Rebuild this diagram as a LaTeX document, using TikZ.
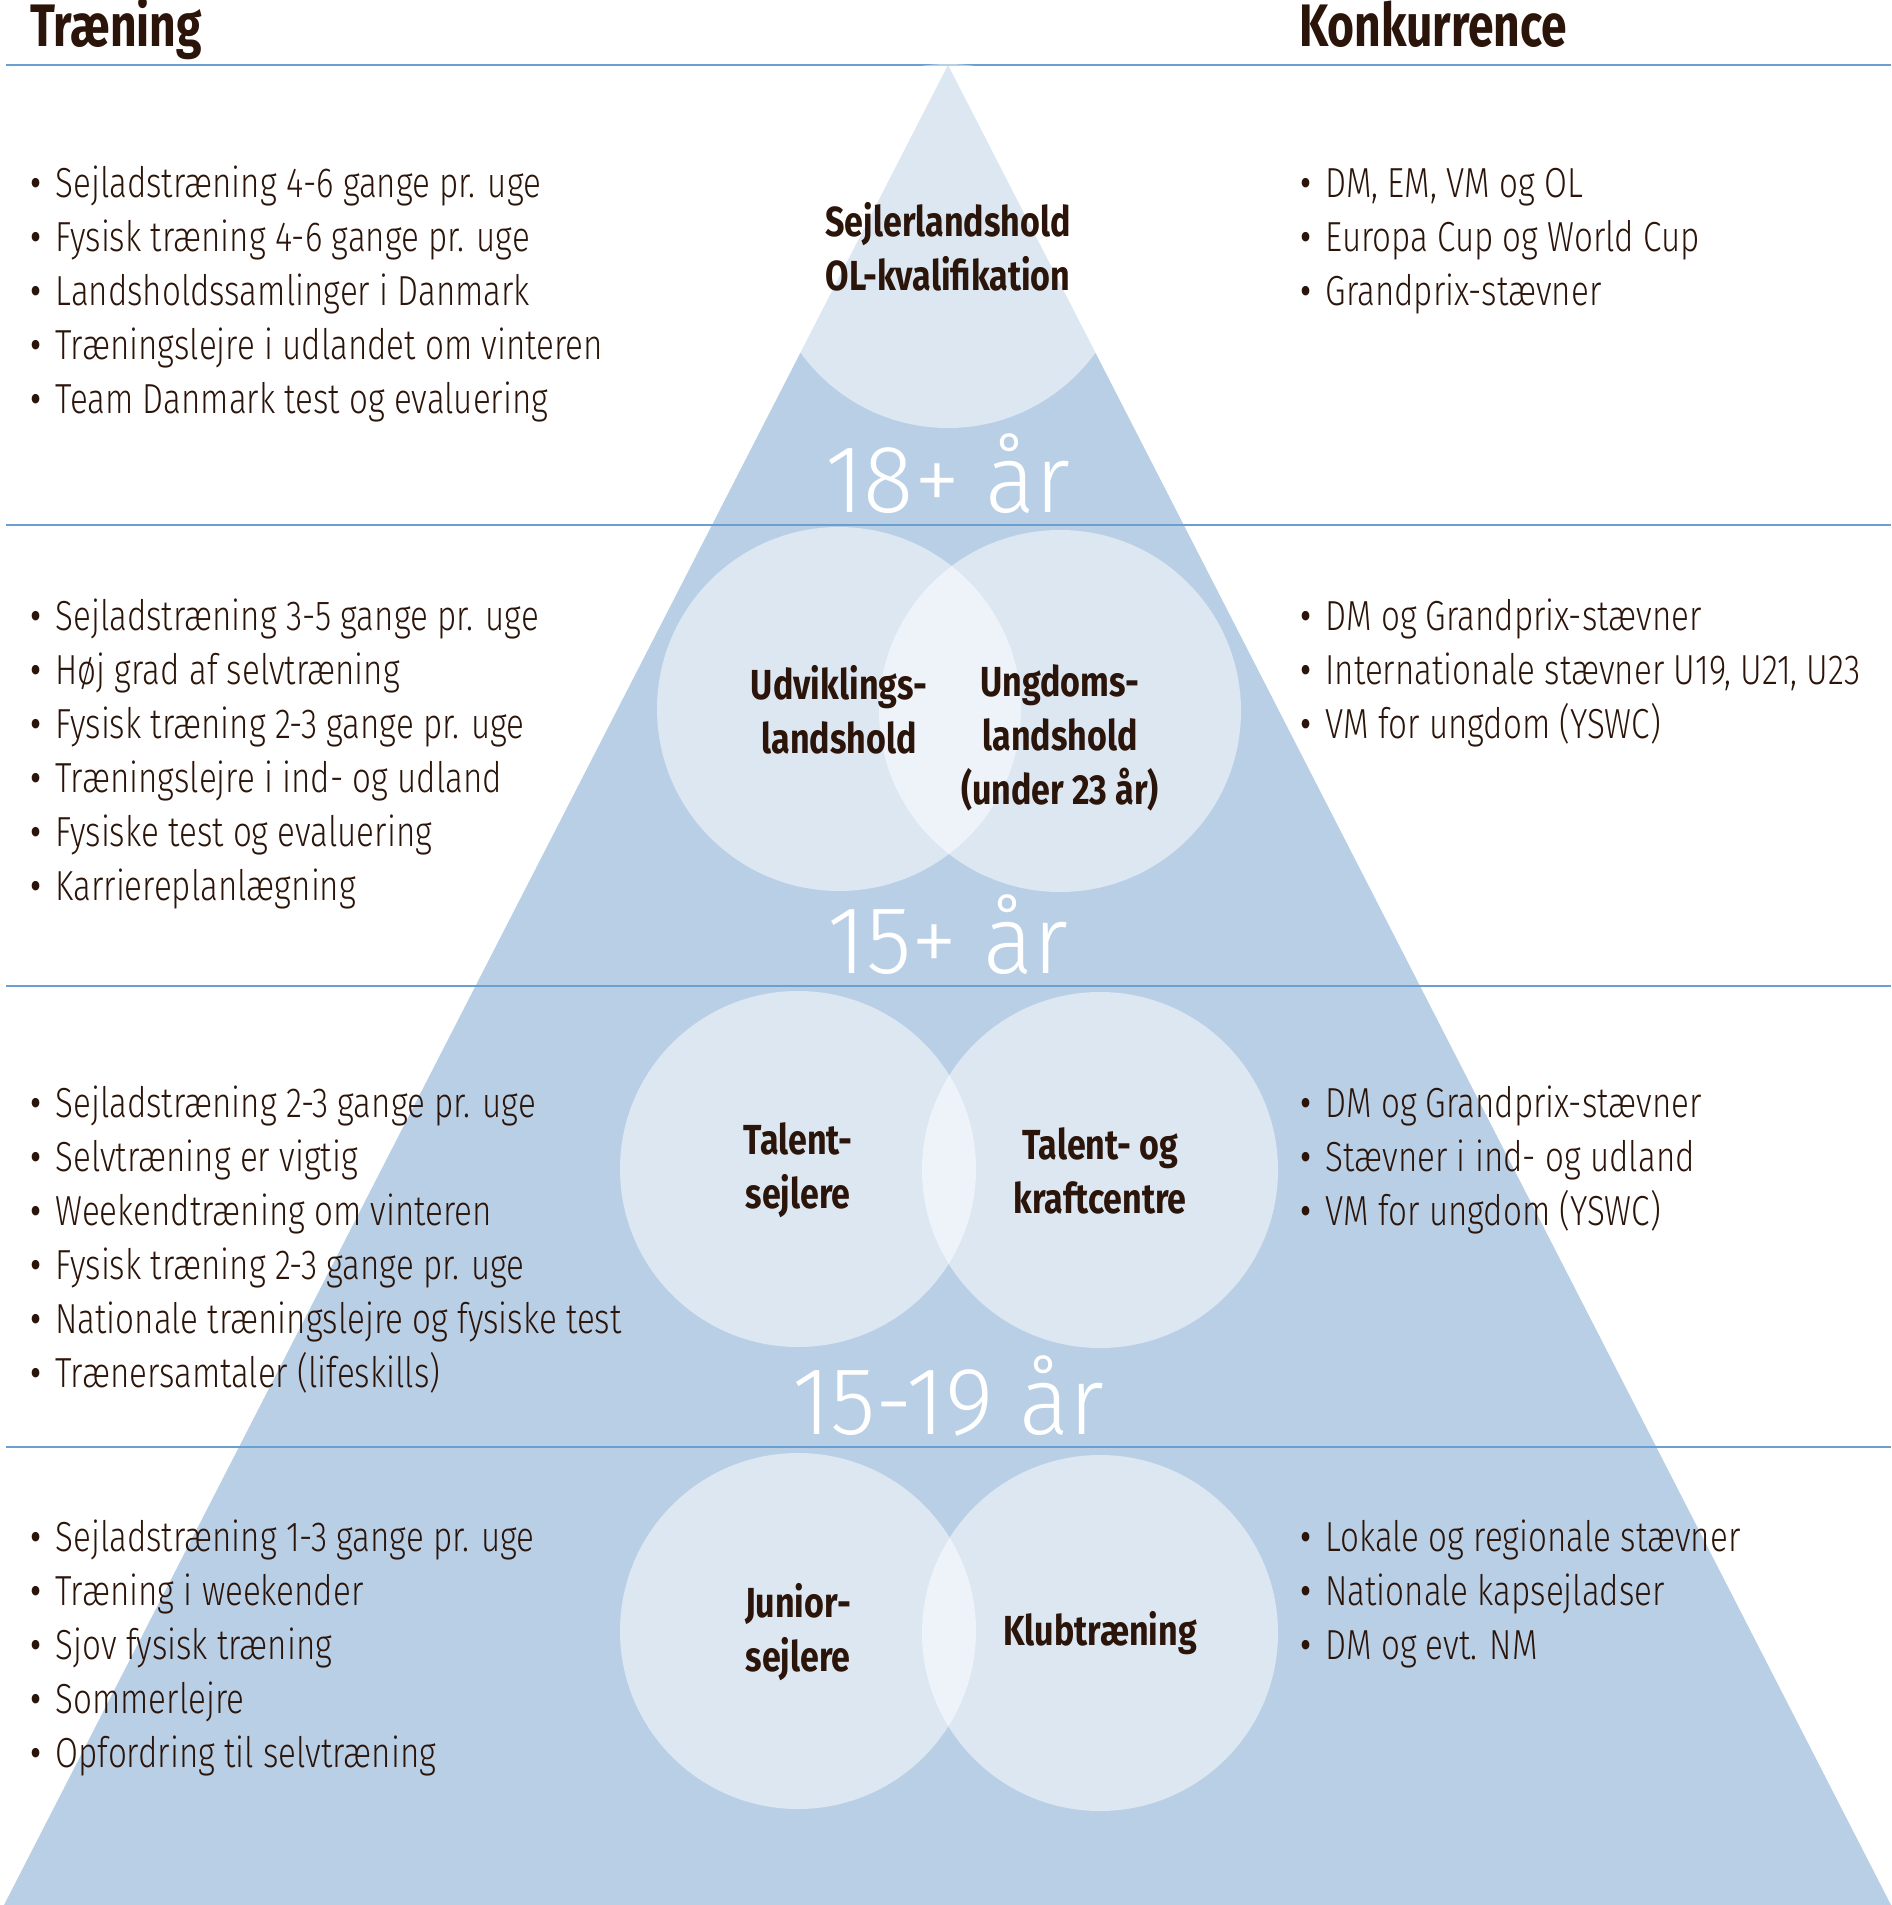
\documentclass[tikz,border=0pt]{standalone}
\usepackage{fontspec}
\setmainfont{Fira Sans}[FakeStretch=0.77]
\newfontfamily\itemfont{Fira Sans Light}[FakeStretch=0.79]
\newfontfamily\teamfont{Fira Sans}[FakeStretch=0.81]
\newfontfamily\agefont{Fira Sans Light}[FakeStretch=0.97]
\newcommand\dotmark{{\teamfont •}\hspace{5pt} }
\definecolor{pyramid}{HTML}{B9CFE6}
\definecolor{linecol}{HTML}{6B9FD0}
\definecolor{ink}{HTML}{2B1409}
\begin{document}
\begin{tikzpicture}[x=1pt,y=-1pt,
  item/.style={anchor=base west,text=ink,inner sep=0pt,font=\fontsize{42}{50}\itemfont},
  heading/.style={anchor=base west,text=ink,inner sep=0pt,font=\fontsize{60}{60}\selectfont\bfseries},
  team/.style={text=ink,align=center,inner sep=0pt,font=\fontsize{42}{54}\teamfont\bfseries},
  age/.style={text=white,inner sep=0pt,font=\fontsize{96}{96}\agefont},
  disc/.style={fill=white,fill opacity=0.5}]
\useasboundingbox (0,0) rectangle (1891,1905);
\coordinate (A) at (948,65);
\coordinate (L) at (4,1905);
\coordinate (R) at (1891,1905);
\fill[pyramid] (A) -- (L) -- (R) -- cycle;
\foreach \y in {65,525,986,1447}
  \draw[linecol,line width=1.5pt] (6,\y) -- (1891,\y);
% circles
\coordinate (top) at (948,246);
\coordinate (udv) at (839,709);
\coordinate (ung) at (1060,711);
\coordinate (tal) at (798,1169);
\coordinate (kraft) at (1100,1170);
\coordinate (jun) at (798,1631);
\coordinate (klub) at (1100,1633);
\fill[disc] (top) circle (182);
\fill[disc] (udv) circle (182);
\fill[disc] (ung) circle (181);
\fill[disc] (tal) circle (178);
\fill[disc] (kraft) circle (178);
\fill[disc] (jun) circle (178);
\fill[disc] (klub) circle (178);
\node[team] (t-top) at (948,247) {Sejlerlandshold\\OL-kvalifikation};
\node[team] (t-udv) at (839,710) {Udviklings-\\landshold};
\node[team] (t-ung) at (1060,738) {Ungdoms-\\landshold\\(under 23 år)};
\node[team] (t-tal) at (798,1170) {Talent-\\sejlere};
\node[team] (t-kraft) at (1100,1171) {Talent- og\\kraftcentre};
\node[team] (t-jun) at (798,1632) {Junior-\\sejlere};
\node[team] (t-klub) at (1100,1633) {Klubtræning};
% ages
\node[age] (a1) at (948,474) {18+ år};
\node[age] (a2) at (948,935) {15+ år};
\node[age] (a3) at (948,1396) {15-19 år};
% headings
\node[heading] (traening) at (30,47) {Træning};
\node[heading] (konk) at (1299,47) {Konkurrence};
% left lists
\foreach \t [count=\i] in {Sejladstræning 4-6 gange pr. uge, Fysisk træning 4-6 gange pr. uge,
  Landsholdssamlinger i Danmark, Træningslejre i udlandet om vinteren, Team Danmark test og evaluering}
  \node[item] (l1-\i) at (30,197+54*\i-54) {\dotmark\t};
\foreach \t [count=\i] in {Sejladstræning 3-5 gange pr. uge, Høj grad af selvtræning,
  Fysisk træning 2-3 gange pr. uge, Træningslejre i ind- og udland, Fysiske test og evaluering,
  Karriereplanlægning}
  \node[item] (l2-\i) at (30,630+54*\i-54) {\dotmark\t};
\foreach \t [count=\i] in {Sejladstræning 2-3 gange pr. uge, Selvtræning er vigtig,
  Weekendtræning om vinteren, Fysisk træning 2-3 gange pr. uge,
  Nationale træningslejre og fysiske test, Trænersamtaler (lifeskills)}
  \node[item] (l3-\i) at (30,1117+54*\i-54) {\dotmark\t};
\foreach \t [count=\i] in {Sejladstræning 1-3 gange pr. uge, Træning i weekender,
  Sjov fysisk træning, Sommerlejre, Opfordring til selvtræning}
  \node[item] (l4-\i) at (30,1551+54*\i-54) {\dotmark\t};
% right lists
\foreach \t [count=\i] in {{DM, EM, VM og OL}, Europa Cup og World Cup, Grandprix-stævner}
  \node[item] (r1-\i) at (1300,197+54*\i-54) {\dotmark\t};
\foreach \t [count=\i] in {DM og Grandprix-stævner, {Internationale stævner U19, U21, U23},
  VM for ungdom (YSWC)}
  \node[item] (r2-\i) at (1300,630+54*\i-54) {\dotmark\t};
\foreach \t [count=\i] in {DM og Grandprix-stævner, Stævner i ind- og udland, VM for ungdom (YSWC)}
  \node[item] (r3-\i) at (1300,1117+54*\i-54) {\dotmark\t};
\foreach \t [count=\i] in {Lokale og regionale stævner, Nationale kapsejladser, DM og evt. NM}
  \node[item] (r4-\i) at (1300,1551+54*\i-54) {\dotmark\t};
\end{tikzpicture}
\end{document}
